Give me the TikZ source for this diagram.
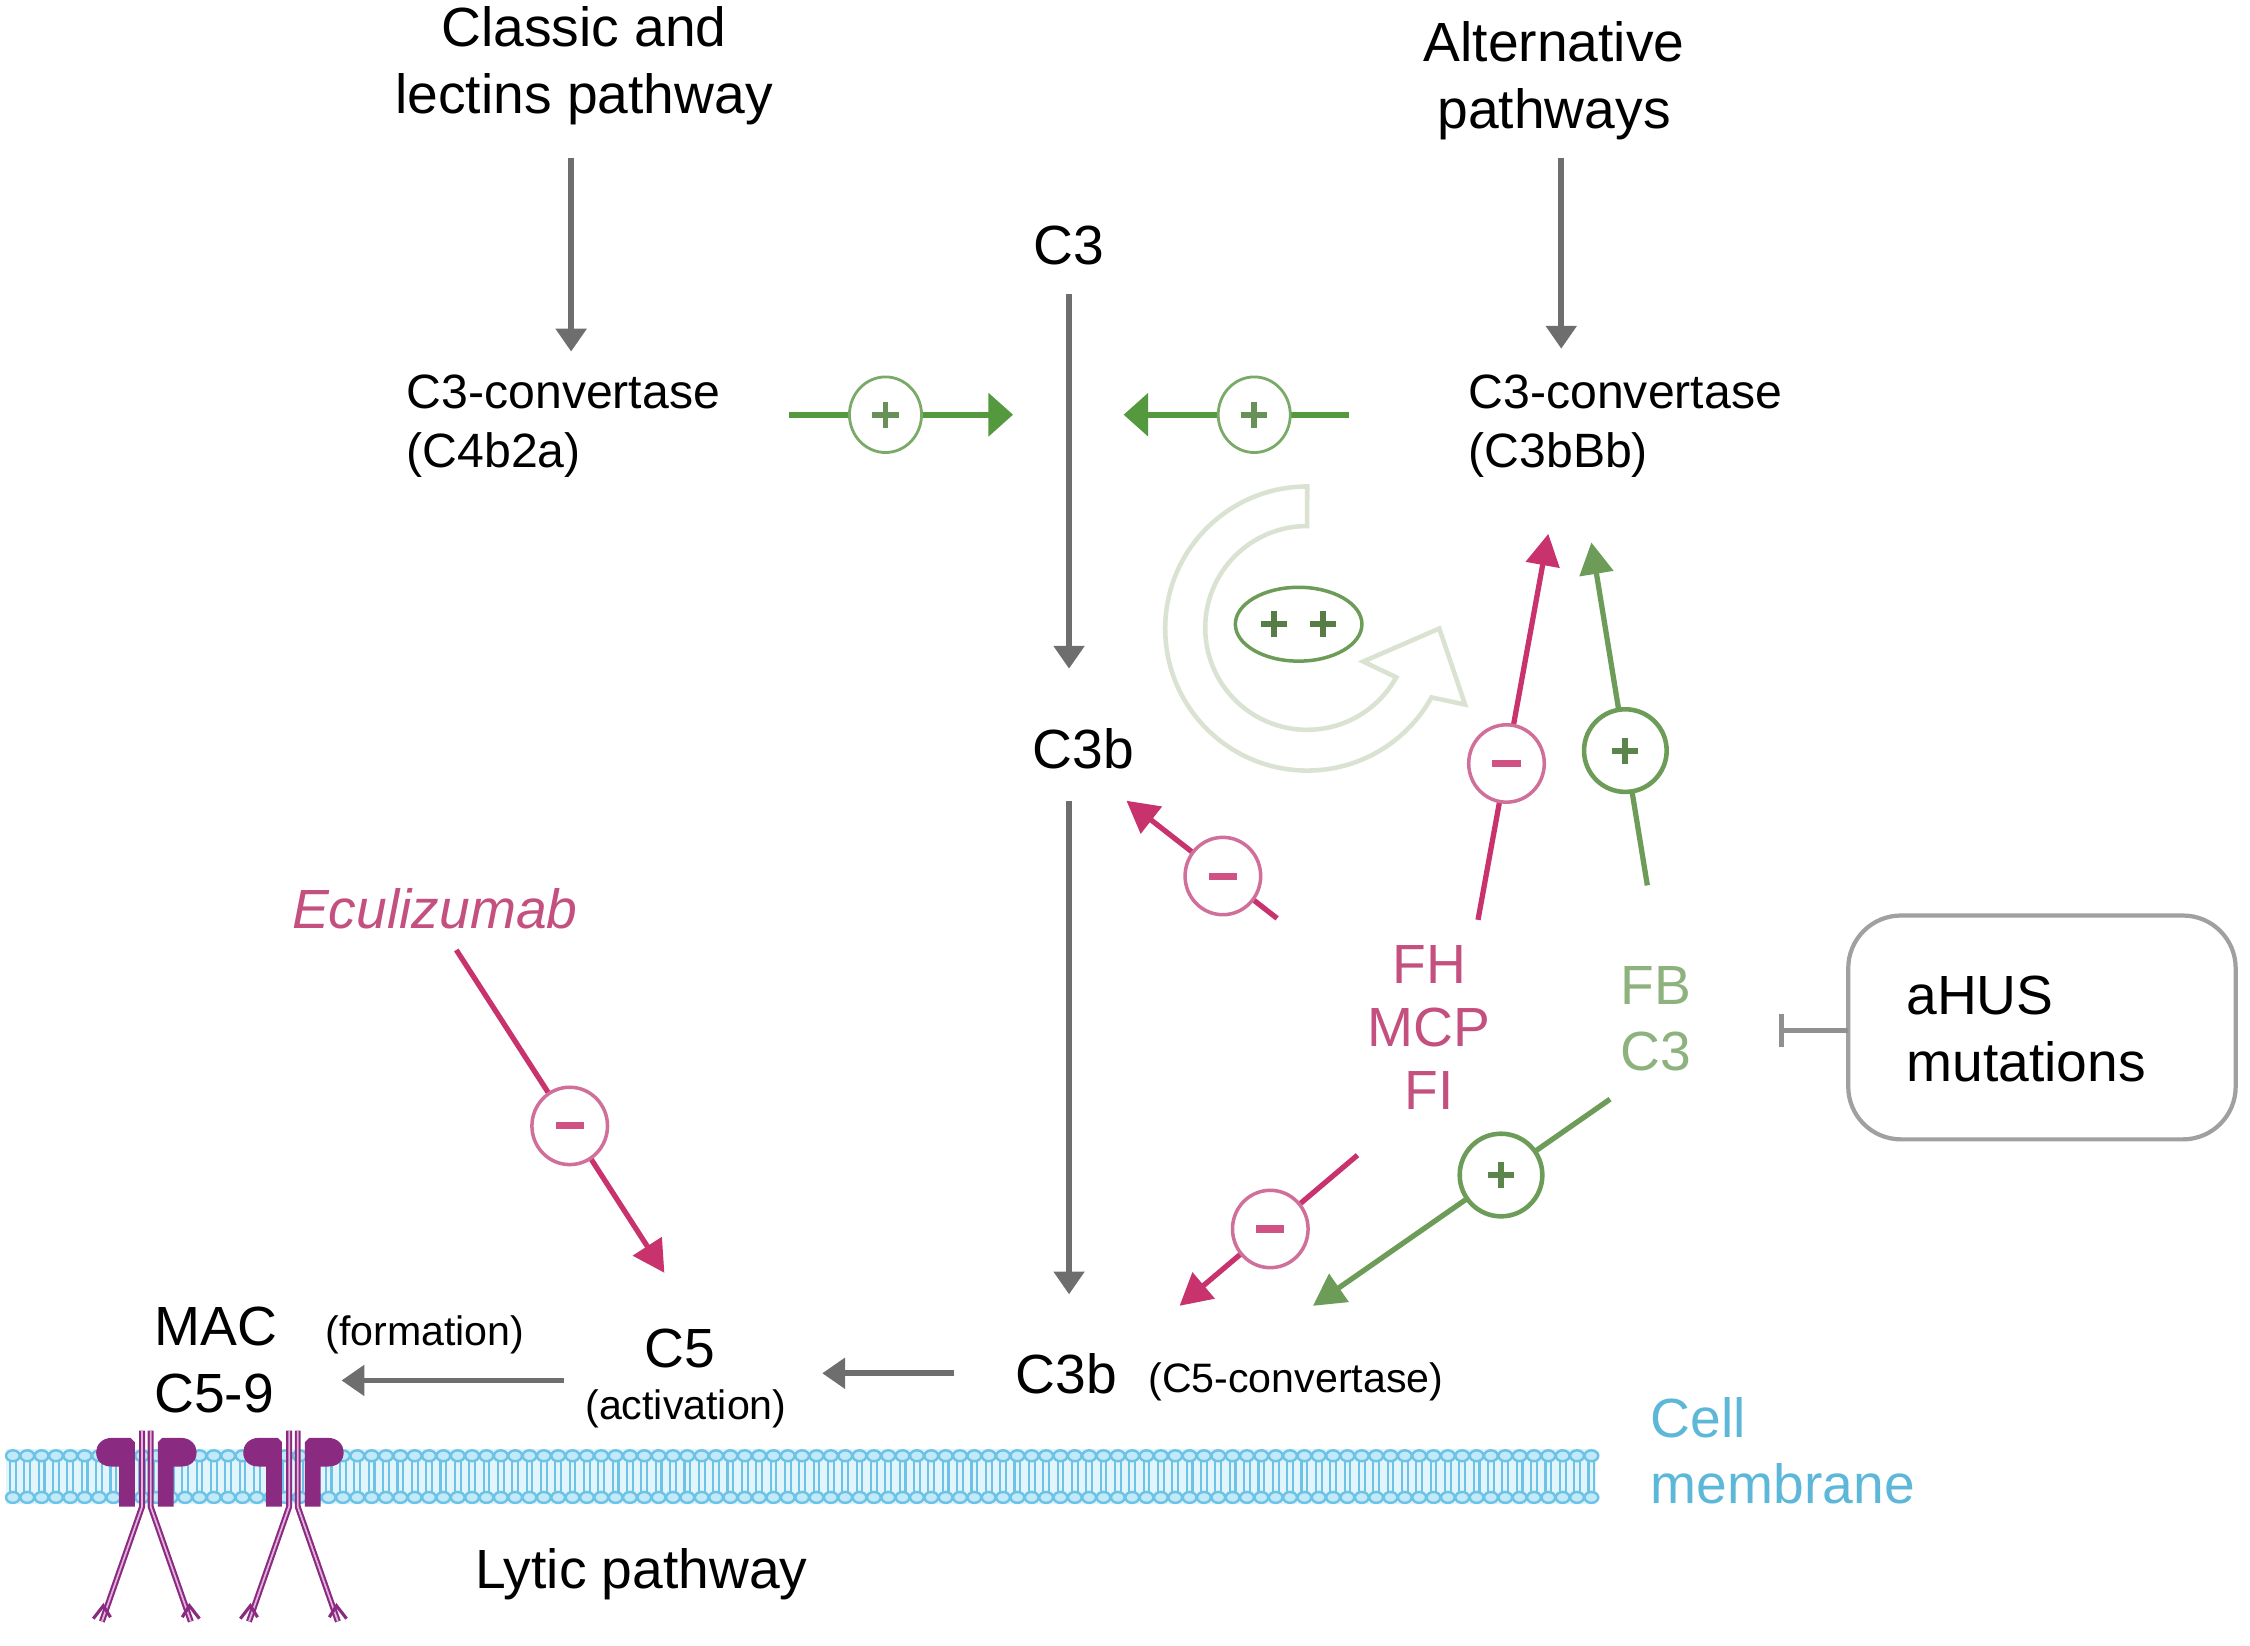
\documentclass[tikz,border=0pt]{standalone}
\usepackage{fontspec}
\setmainfont{Liberation Sans}
\usetikzlibrary{arrows.meta}
\usetikzlibrary{shapes}
\definecolor{grayarr}{HTML}{6E6E6E}
\definecolor{pinkarr}{HTML}{C8336E}
\definecolor{pinkcir}{HTML}{D0709A}
\definecolor{pinktxt}{HTML}{C4507F}
\definecolor{greenarr}{HTML}{6C9C58}
\definecolor{greentop}{HTML}{55993F}
\definecolor{greencir}{HTML}{7AAA68}
\definecolor{greentxt}{HTML}{8DB27D}
\definecolor{celltxt}{HTML}{5DB7D9}
\definecolor{macpurple}{HTML}{8A2A80}
\definecolor{maclight}{HTML}{E2B2DC}
\definecolor{lipidfill}{HTML}{C2E9F8}
\definecolor{lipiddraw}{HTML}{6CC3E6}
\definecolor{lipidbg}{HTML}{E2F5FC}
\definecolor{cyclecol}{HTML}{DAE3D2}
\definecolor{boxgray}{HTML}{A0A0A0}
\newcommand{\bigf}{\fontsize{15.7}{19}\selectfont}
\newcommand{\midf}{\fontsize{13.7}{16.7}\selectfont}
\newcommand{\smlf}{\fontsize{11.7}{14}\selectfont}
\tikzset{dgm/.style={
  x=0.01435cm,
  y=-0.01435cm
}}
\tikzset{lbl/.style={
  inner sep=0pt,
  font=\bigf,
  align=center,
}}
\tikzset{grar/.style={draw=grayarr, line width=1.6pt, -{Triangle[length=6.5pt,width=8.5pt]}}}
\tikzset{pkar/.style={draw=pinkarr, line width=1.5pt, -{Triangle[length=9pt,width=9.5pt]}}}
\tikzset{gnar/.style={draw=greenarr, line width=1.5pt, -{Triangle[length=9pt,width=9.5pt]}}}
\tikzset{tpar/.style={draw=greentop, line width=1.8pt, -{Triangle[length=7pt,width=12pt]}}}
\tikzset{sgn/.style={
  shape=ellipse,
  fill=white,
  inner sep=0pt,
  minimum width=21.5pt,
  minimum height=22pt,
}}
\tikzset{pcir/.style={sgn, draw=#1, line width=1pt,
  path picture={\draw[#1!85!black, -, line width=1.7pt]
    ([xshift=-3.7pt]path picture bounding box.center) -- ([xshift=3.7pt]path picture bounding box.center)
    ([yshift=-3.7pt]path picture bounding box.center) -- ([yshift=3.7pt]path picture bounding box.center);}}}
\tikzset{mcir/.style={sgn, draw=pinkcir, line width=1pt,
  path picture={\fill[pinkarr!85!white]
    ([xshift=-4pt,yshift=-1pt]path picture bounding box.center) rectangle ([xshift=4pt,yshift=1pt]path picture bounding box.center);}}}
\tikzset{macln/.style={draw=macpurple, line width=0.6pt, double=maclight, double distance=0.5pt}}

\begin{document}
\begin{tikzpicture}[dgm]
  \useasboundingbox (0,0) rectangle (1568,1147);
  % Cell membrane
  \fill[lipidbg] (4,1010) rectangle (1112,1048);
  \foreach \x in {9,19,...,1109} {
    \draw[lipiddraw, line width=0.6pt] (\x-2,1018) -- (\x-2,1040) (\x+2,1018) -- (\x+2,1040);
    \draw[lipiddraw, fill=lipidfill, line width=0.7pt] (\x,1014.5) ellipse[x radius=4.8, y radius=3.8];
    \draw[lipiddraw, fill=lipidfill, line width=0.7pt] (\x,1043.5) ellipse[x radius=4.8, y radius=3.8];
  }
  % MAC pores
  \foreach \c in {102,204.5} {
    \fill[macpurple] (\c-8,1050) -- (\c-8,1005) -- (\c-11,1002) -- (\c-24,1002)
      .. controls (\c-31,1002) and (\c-35,1007) .. (\c-35,1012)
      .. controls (\c-35,1018) and (\c-31,1022) .. (\c-24,1022) -- (\c-19,1022) -- (\c-19,1050) -- cycle;
    \fill[macpurple] (\c+8,1050) -- (\c+8,1005) -- (\c+11,1002) -- (\c+24,1002)
      .. controls (\c+31,1002) and (\c+35,1007) .. (\c+35,1012)
      .. controls (\c+35,1018) and (\c+31,1022) .. (\c+24,1022) -- (\c+19,1022) -- (\c+19,1050) -- cycle;
    \draw[macln] (\c-3,997) -- (\c-3,1050) -- (\c-31,1130);
    \draw[macln] (\c+3,997) -- (\c+3,1050) -- (\c+31,1130);
    \draw[macpurple, line width=0.9pt] (\c-37,1128) -- (\c-30,1119) -- (\c-25,1127)
      (\c+37,1128) -- (\c+30,1119) -- (\c+25,1127);
  }
  % Amplification loop
  \draw[cyclecol, fill=white, line width=1.3pt]
    (911,339) arc[start angle=-90, end angle=-331, radius=99]
    -- (1021,491) -- (1003,438) -- (950,461) -- (973,472)
    arc[start angle=-331, end angle=-90, radius=71] -- cycle;
  \node[shape=ellipse, draw=greenarr, line width=1pt, minimum width=36pt, minimum height=21pt,
    path picture={\draw[greenarr!80!black, line width=1.7pt]
      ([xshift=-10.7pt]path picture bounding box.center) -- ([xshift=-3.3pt]path picture bounding box.center)
      ([xshift=-7pt,yshift=-3.7pt]path picture bounding box.center) -- ([xshift=-7pt,yshift=3.7pt]path picture bounding box.center)
      ([xshift=3.3pt]path picture bounding box.center) -- ([xshift=10.7pt]path picture bounding box.center)
      ([xshift=7pt,yshift=-3.7pt]path picture bounding box.center) -- ([xshift=7pt,yshift=3.7pt]path picture bounding box.center);}]
    (amp) at (905,435) {};
  % Labels
  \node[lbl] (clas) at (407,46) {Classic and\\lectins pathway};
  \node[lbl] (altp) at (1083,56) {Alternative\\pathways};
  \node[lbl] (cthr) at (745,171) {C3};
  \node[lbl, font=\midf, align=left, anchor=west] (cvl) at (283,297) {C3-convertase\\(C4b2a)};
  \node[lbl, font=\midf, align=left, anchor=west] (cvr) at (1023,297) {C3-convertase\\(C3bBb)};
  \node[lbl] (cthb) at (755,522) {C3b};
  \node[lbl] (cfiv) at (743,957) {C3b};
  \node[lbl, font=\smlf] (cfivl) at (903,963) {(C5-convertase)};
  \node[lbl] (cfive) at (474,940) {C5};
  \node[lbl, font=\smlf] (actv) at (478,982) {(activation)};
  \node[lbl, font=\smlf] (form) at (296,930) {(formation)};
  \node[lbl, align=left, anchor=west] (mac) at (107,948) {MAC\\C5-9};
  \node[lbl] (lyt) at (447,1097) {Lytic pathway};
  \node[lbl, text=pinktxt, font=\bigf\itshape] (ecu) at (303,633) {Eculizumab};
  \node[lbl, text=pinktxt, font=\fontsize{15.7}{17.8}\selectfont] (fh) at (996,716) {FH\\MCP\\FI};
  \node[lbl, text=greentxt] (fb) at (1154,710) {FB\\C3};
  \node[lbl, text=celltxt, align=left, anchor=west] (cell) at (1150,1011) {Cell\\membrane};
  \draw[boxgray, line width=1.2pt, rounded corners=15pt] (1288,638) rectangle (1558,794);
  \node[lbl, align=left, anchor=west] (ahus) at (1328,717) {aHUS\\mutations};
  % Arrow ends
  \coordinate (clas-s) at (398,110);
  \coordinate (cvl-n) at (398,245);
  \coordinate (altp-s) at (1088,110);
  \coordinate (cvr-n) at (1088,243);
  \coordinate (cthr-s) at (745,205);
  \coordinate (cthb-n) at (745,466);
  \coordinate (cthb-s) at (745,558);
  \coordinate (cfiv-n) at (745,902);
  \coordinate (cfiv-w) at (665,957);
  \coordinate (cfive-e) at (573,957);
  \coordinate (cfive-w) at (393,962);
  \coordinate (mac-e) at (238,962);
  \coordinate (cvl-e) at (550,289);
  \coordinate (mid-l) at (706,289);
  \coordinate (cvr-w) at (940,289);
  \coordinate (mid-r) at (783,289);
  \coordinate (fh-n) at (1030,641);
  \coordinate (cvr-s1) at (1079,372);
  \coordinate (fb-n) at (1148,617);
  \coordinate (cvr-s2) at (1109,378);
  \coordinate (fh-nw) at (890,640);
  \coordinate (cthb-se) at (785,558);
  \coordinate (ecu-s) at (318,662);
  \coordinate (cfive-n) at (463,887);
  \coordinate (fh-sw) at (946,805);
  \coordinate (cfiv-ne1) at (822,910);
  \coordinate (fb-sw) at (1122,766);
  \coordinate (cfiv-ne2) at (915,910);
  \coordinate (ahus-w) at (1288,718);
  \coordinate (fb-e) at (1240,718);
  % Cascade
  \draw[grar] (clas-s) -- (cvl-n);
  \draw[grar] (altp-s) -- (cvr-n);
  \draw[grar] (cthr-s) -- (cthb-n);
  \draw[grar] (cthb-s) -- (cfiv-n);
  \draw[grar] (cfiv-w) -- (cfive-e);
  \draw[grar] (cfive-w) -- (mac-e);
  % Regulation
  \draw[tpar] (cvl-e) -- (mid-l) node[pcir=greencir, pos=0.43, minimum width=20.5pt, minimum height=21.5pt, line width=0.8pt] (pl1) {};
  \draw[tpar] (cvr-w) -- (mid-r) node[pcir=greencir, pos=0.42, minimum width=20.5pt, minimum height=21.5pt, line width=0.8pt] (pl2) {};
  \draw[pkar] (fh-n) -- (cvr-s1) node[mcir, pos=0.405] (mi1) {};
  \draw[gnar] (fb-n) -- (cvr-s2) node[pcir=greenarr, pos=0.393, minimum size=23.5pt, line width=1.3pt] (pl3) {};
  \draw[pkar] (fh-nw) -- (cthb-se) node[mcir, pos=0.36] (mi2) {};
  \draw[pkar] (ecu-s) -- (cfive-n) node[mcir, pos=0.545] (mi3) {};
  \draw[pkar] (fh-sw) -- (cfiv-ne1) node[mcir, pos=0.49] (mi4) {};
  \draw[gnar] (fb-sw) -- (cfiv-ne2) node[pcir=greenarr, pos=0.367, minimum size=23.5pt, line width=1.3pt] (pl4) {};
  \draw[boxgray!90!black, line width=1.4pt, -{Bar[width=9.5pt]}] (ahus-w) -- (fb-e);
\end{tikzpicture}
\end{document}
